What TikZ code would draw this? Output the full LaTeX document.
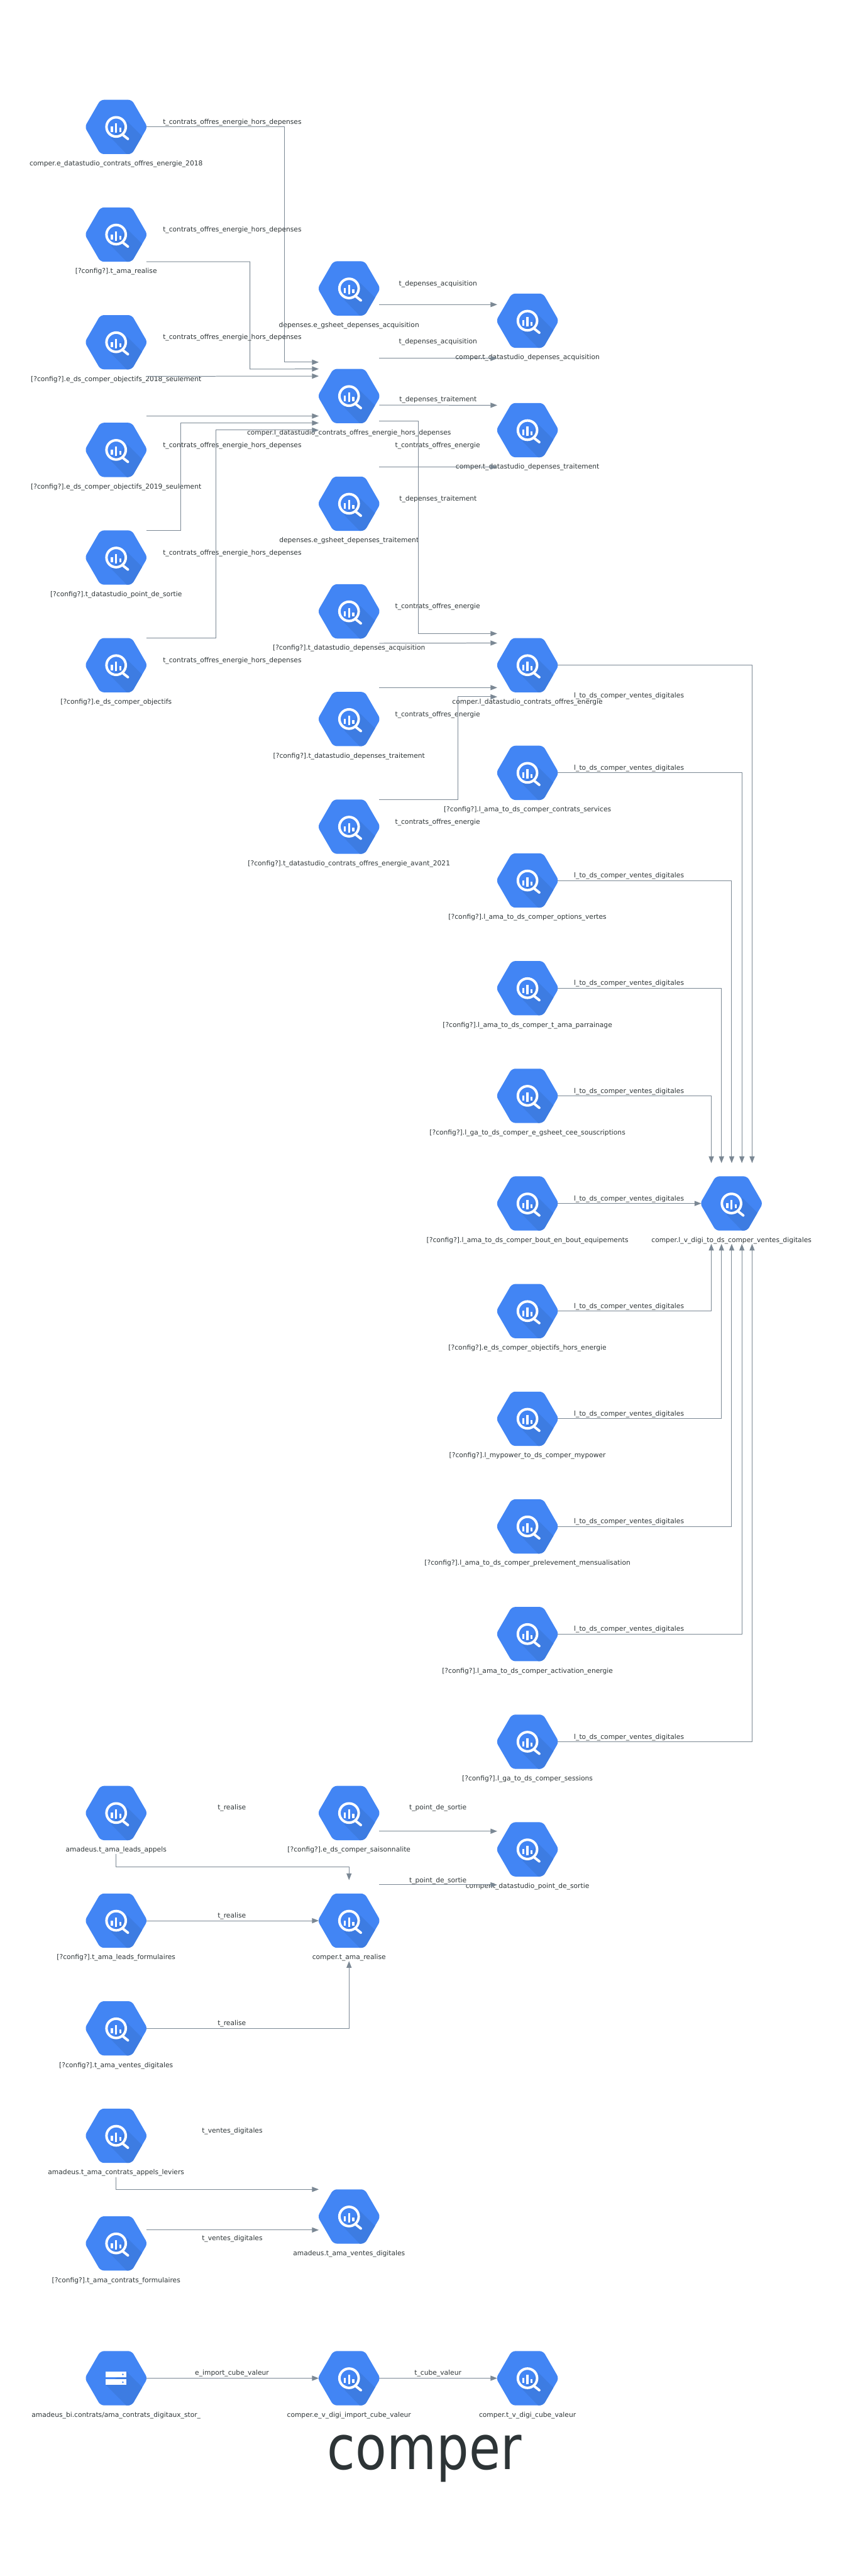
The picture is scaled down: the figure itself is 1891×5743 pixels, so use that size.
\documentclass[tikz,border=0pt]{standalone}
\usepackage{fontspec}
\usepackage{graphicx}
\setmainfont{DejaVu Sans}
\usetikzlibrary{positioning, arrows.meta, calc}
\definecolor{bqblue}{HTML}{4285F4}
\definecolor{bqshade}{HTML}{3D7CE2}
\definecolor{edgegrey}{HTML}{7B8894}
\definecolor{inkgrey}{HTML}{2D3436}

% hexagon outline, centre at the origin
\newcommand{\hexpath}{(-70,0) -- (-35,-60.5) -- (35,-60.5) -- (70,0) -- (35,60.5) -- (-35,60.5) -- cycle}
% lens icon
\newcommand{\lensicon}{
    \begin{scope}[shift={(path picture bounding box.center)}]
        \fill[bqblue, rounded corners=4pt] \hexpath;
        \begin{scope}
            \clip[rounded corners=4pt] \hexpath;
            \fill[bqshade] (25,-12) -- (80,43) -- (80,70) -- (33,70) -- (-11,25) -- cycle;
        \end{scope}
        \draw[white, line width=2.8pt] (0,0) circle (21.5);
        \draw[white, line width=2.8pt, line cap=round] (15.7,18.3) -- (26.3,26.7);
        \fill[white] (-2.3,-7.7) rectangle (2.3,13.3);
        \fill[white] (-11.7,-0.7) rectangle (-7,11);
        \fill[white] (7,2.3) rectangle (11.7,11);
    \end{scope}
}
% server icon
\newcommand{\storeicon}{
    \begin{scope}[shift={(path picture bounding box.center)}]
        \fill[bqblue, rounded corners=4pt] \hexpath;
        \begin{scope}
            \clip[rounded corners=4pt] \hexpath;
            \fill[bqshade] (23,-15) -- (80,42) -- (80,70) -- (32,70) -- (-23,15) -- cycle;
        \end{scope}
        \fill[white] (-23,-15) rectangle (23,-2);
        \fill[white] (-23,2.5) rectangle (23,15);
        \fill[bqblue] (15,-8.5) circle (2);
        \fill[bqblue] (15,9) circle (2);
    \end{scope}
}

\begin{document}
\begin{tikzpicture}[
    x=0.5pt, y=-0.5pt,
    node distance=59.5pt and 192.25pt,
    tag/.style={font=\fontsize{7.5pt}{9pt}\selectfont, text=inkgrey, inner sep=0pt, text height=5.6pt, text depth=1.6pt},
    hexnode/.style={minimum width=67.5pt, minimum height=60.5pt, inner sep=0pt, outer sep=0pt, label={[tag, label distance=7.3pt]below:#1}},
    bq/.style={hexnode={#1}, path picture={\lensicon}},
    store/.style={hexnode={#1}, path picture={\storeicon}},
    line/.style={draw=edgegrey, line width=0.7pt, -{Triangle[length=7.5pt, width=5.7pt]}},
    elabel/.style={tag}
]
\useasboundingbox (0,0) rectangle (1891,5743);

% First group
\node[bq={comper.e\_datastudio\_contrats\_offres\_energie\_2018}] (cmp18) at (259,283) {};
\node[bq={[?config?].t\_ama\_realise}, below=of cmp18] (amareal) {};
\node[bq={[?config?].e\_ds\_comper\_objectifs\_2018\_seulement}, below=of amareal] (obj18) {};
\node[bq={[?config?].e\_ds\_comper\_objectifs\_2019\_seulement}, below=of obj18] (obj19) {};
\node[bq={[?config?].t\_datastudio\_point\_de\_sortie}, below=of obj19] (dspoint) {};
\node[bq={[?config?].e\_ds\_comper\_objectifs}, below=of dspoint] (obj) {};

\node[bq={depenses.e\_gsheet\_depenses\_acquisition}, right=of amareal, yshift=-60pt] (gacq) {};
\node[bq={comper.l\_datastudio\_contrats\_offres\_energie\_hors\_depenses}, below=of gacq] (hors) {};
\node[bq={depenses.e\_gsheet\_depenses\_traitement}, below=of hors] (gtrt) {};
\node[bq={[?config?].t\_datastudio\_depenses\_acquisition}, below=of gtrt] (dsacq) {};
\node[bq={[?config?].t\_datastudio\_depenses\_traitement}, below=of dsacq] (dstrt) {};
\node[bq={[?config?].t\_datastudio\_contrats\_offres\_energie\_avant\_2021}, below=of dstrt] (avant) {};

\node[bq={comper.t\_datastudio\_depenses\_acquisition}, right=131.5pt of gacq, yshift=-36pt] (tacq) {};
\node[bq={comper.t\_datastudio\_depenses\_traitement}, right=131.5pt of hors, yshift=-38pt] (ttrt) {};

% Ventes digitales
\node[bq={comper.l\_datastudio\_contrats\_offres\_energie}, right=131.5pt of dstrt, yshift=60pt] (lcontrats) {};
\node[bq={[?config?].l\_ama\_to\_ds\_comper\_contrats\_services}, below=of lcontrats] (lserv) {};
\node[bq={[?config?].l\_ama\_to\_ds\_comper\_options\_vertes}, below=of lserv] (lvert) {};
\node[bq={[?config?].l\_ama\_to\_ds\_comper\_t\_ama\_parrainage}, below=of lvert] (lparr) {};
\node[bq={[?config?].l\_ga\_to\_ds\_comper\_e\_gsheet\_cee\_souscriptions}, below=of lparr] (lcee) {};
\node[bq={[?config?].l\_ama\_to\_ds\_comper\_bout\_en\_bout\_equipements}, below=of lcee] (lbout) {};
\node[bq={[?config?].e\_ds\_comper\_objectifs\_hors\_energie}, below=of lbout] (ohors) {};
\node[bq={[?config?].l\_mypower\_to\_ds\_comper\_mypower}, below=of ohors] (lpower) {};
\node[bq={[?config?].l\_ama\_to\_ds\_comper\_prelevement\_mensualisation}, below=of lpower] (lprel) {};
\node[bq={[?config?].l\_ama\_to\_ds\_comper\_activation\_energie}, below=of lprel] (lactiv) {};
\node[bq={[?config?].l\_ga\_to\_ds\_comper\_sessions}, below=of lactiv] (lsess) {};
\node[bq={comper.l\_v\_digi\_to\_ds\_comper\_ventes\_digitales}, right=160pt of lbout] (ldigi) {};

% Realise
\node[bq={amadeus.t\_ama\_leads\_appels}, below=1219pt of obj] (leads) {};
\node[bq={[?config?].t\_ama\_leads\_formulaires}, below=of leads] (leadsf) {};
\node[bq={[?config?].t\_ama\_ventes\_digitales}, below=of leadsf] (ventes) {};
\node[bq={[?config?].e\_ds\_comper\_saisonnalite}, right=of leads] (saison) {};
\node[bq={comper.t\_ama\_realise}, right=of leadsf] (treal) {};
\node[bq={comper.t\_datastudio\_point\_de\_sortie}, right=131.5pt of saison, yshift=-40.5pt] (tpoint) {};

% Ventes amadeus
\node[bq={amadeus.t\_ama\_contrats\_appels\_leviers}, below=59.25pt of ventes] (appels) {};
\node[bq={[?config?].t\_ama\_contrats\_formulaires}, below=of appels] (contf) {};
\node[bq={amadeus.t\_ama\_ventes\_digitales}, right=of appels, yshift=-90pt] (tvd) {};

% Cube valeur
\node[store={amadeus\_bi.contrats/ama\_contrats\_digitaux\_stor\_}, below=89.75pt of contf] (stor) {};
\node[bq={comper.e\_v\_digi\_import\_cube\_valeur}, right=of stor] (eimport) {};
\node[bq={comper.t\_v\_digi\_cube\_valeur}, right=131.5pt of eimport] (tcube) {};

\node[font=\fontsize{57pt}{60pt}\selectfont, text=inkgrey, inner sep=0pt, anchor=base] (title) at (946.5,5505) {\scalebox{1}[1.2]{comper}};

% Edges into hors
\draw[line] (cmp18.east) -| (634.6,807.5) -- ($(hors.west)+(0,-75.5)$) node[elabel] (lab1) at (518,273) {t\_contrats\_offres\_energie\_hors\_depenses};
\draw[line] (amareal.south east) -| (557.4,823) -- (hors.north west) node[elabel] (lab2) at (518,513) {t\_contrats\_offres\_energie\_hors\_depenses};
\draw[line] ($(obj18.east)+(0,76)$) -- ($(hors.west)+(0,-44.5)$) node[elabel] (lab3) at (518,753) {t\_contrats\_offres\_energie\_hors\_depenses};
\draw[line] ($(obj19.east)+(0,-75.5)$) -- ($(hors.west)+(0,44.5)$) node[elabel] (lab4) at (518,993) {t\_contrats\_offres\_energie\_hors\_depenses};
\draw[line] (dspoint.north east) -| (403.7,943) -- ($(hors.west)+(0,60)$) node[elabel] (lab5) at (518,1233) {t\_contrats\_offres\_energie\_hors\_depenses};
\draw[line] (obj.north east) -| (481,959) -- ($(hors.west)+(0,76)$) node[elabel] (lab6) at (518,1473) {t\_contrats\_offres\_energie\_hors\_depenses};

% Edges to the depenses tables
\draw[line] ($(gacq.east)+(0,36)$) -- ($(tacq.west)+(0,-36)$) node[elabel] (lab7) at (977,633.6) {t\_depenses\_acquisition};
\draw[line] ($(hors.east)+(0,-84)$) -- ($(tacq.west)+(0,84)$) node[elabel] (lab8) at (977,762) {t\_depenses\_acquisition};
\draw[line] ($(hors.east)+(0,20)$) -- ($(ttrt.west)+(0,-55.5)$) node[elabel] (lab9) at (977,891) {t\_depenses\_traitement};
\draw[line] ($(gtrt.east)+(0,-82)$) -- ($(ttrt.west)+(0,82)$) node[elabel] (lab10) at (977,1113) {t\_depenses\_traitement};

% Edges into lcontrats
\draw[line] ($(hors.east)+(0,56)$) -| (933.3,1412.5) -- ($(lcontrats.west)+(0,-70.5)$) node[elabel] (lab11) at (976,993) {t\_contrats\_offres\_energie};
\draw[line] ($(dsacq.east)+(0,71)$) -- ($(lcontrats.west)+(0,-49.5)$) node[elabel] (lab12) at (976,1353) {t\_contrats\_offres\_energie};
\draw[line] ($(dstrt.east)+(0,-70)$) -- ($(lcontrats.west)+(0,50)$) node[elabel] (lab13) at (976,1593) {t\_contrats\_offres\_energie};
\draw[line] (avant.north east) -| (1021.4,1553.5) -- ($(lcontrats.west)+(0,70.5)$) node[elabel] (lab14) at (976,1833) {t\_contrats\_offres\_energie};

% Edges into ldigi
\draw[line] (lcontrats.east) -| (1677.5,2593) node[elabel] (lab15) at (1403,1551) {l\_to\_ds\_comper\_ventes\_digitales};
\draw[line] (lserv.east) -| (1654.7,2593) node[elabel] (lab16) at (1403,1713) {l\_to\_ds\_comper\_ventes\_digitales};
\draw[line] (lvert.east) -| (1632,2593) node[elabel] (lab17) at (1403,1953) {l\_to\_ds\_comper\_ventes\_digitales};
\draw[line] (lparr.east) -| (1609.2,2593) node[elabel] (lab18) at (1403,2193) {l\_to\_ds\_comper\_ventes\_digitales};
\draw[line] (lcee.east) -| (1586.5,2593) node[elabel] (lab19) at (1403,2433) {l\_to\_ds\_comper\_ventes\_digitales};
\draw[line] (lbout.east) -- (ldigi.west) node[elabel] (lab20) at (1403,2673) {l\_to\_ds\_comper\_ventes\_digitales};
\draw[line] (ohors.east) -| (1586.5,2773) node[elabel] (lab21) at (1403,2913) {l\_to\_ds\_comper\_ventes\_digitales};
\draw[line] (lpower.east) -| (1609.2,2773) node[elabel] (lab22) at (1403,3153) {l\_to\_ds\_comper\_ventes\_digitales};
\draw[line] (lprel.east) -| (1632,2773) node[elabel] (lab23) at (1403,3393) {l\_to\_ds\_comper\_ventes\_digitales};
\draw[line] (lactiv.east) -| (1654.7,2773) node[elabel] (lab24) at (1403,3633) {l\_to\_ds\_comper\_ventes\_digitales};
\draw[line] (lsess.east) -| (1677.5,2773) node[elabel] (lab25) at (1403,3873) {l\_to\_ds\_comper\_ventes\_digitales};

% Edges into treal and tpoint
\draw[line] ($(leads.south)+(0,31)$) |- ($(leads.south)+(259.5,59.5)$) -| ($(treal.north)+(0,-30)$) node[elabel] (lab26) at (517,4031) {t\_realise};
\draw[line] (leadsf.east) -- (treal.west) node[elabel] (lab27) at (517,4271) {t\_realise};
\draw[line] (ventes.east) -| ($(treal.south)+(0,29.5)$) node[elabel] (lab28) at (517,4511) {t\_realise};
\draw[line] ($(saison.east)+(0,40.5)$) -- ($(tpoint.west)+(0,-40.5)$) node[elabel] (lab29) at (976.8,4031) {t\_point\_de\_sortie};
\draw[line] ($(treal.east)+(0,-80)$) -- ($(tpoint.west)+(0,79)$) node[elabel] (lab30) at (976.8,4193) {t\_point\_de\_sortie};

% Edges into tvd
\draw[line] ($(appels.south)+(0,32)$) |- (tvd.north west) node[elabel] (lab31) at (518,4751) {t\_ventes\_digitales};
\draw[line] ($(contf.east)+(0,-30)$) -- ($(tvd.west)+(0,30)$) node[elabel] (lab32) at (518,4991) {t\_ventes\_digitales};

% Cube edges
\draw[line] (stor.east) -- (eimport.west) node[elabel] (lab33) at (517.4,5291) {e\_import\_cube\_valeur};
\draw[line] (eimport.east) -- (tcube.west) node[elabel] (lab34) at (976.8,5291) {t\_cube\_valeur};

\end{tikzpicture}
\end{document}
